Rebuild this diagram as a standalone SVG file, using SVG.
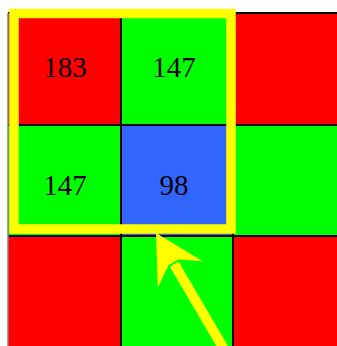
<svg xmlns="http://www.w3.org/2000/svg" width="337" height="346" viewBox="0 0 337 346">
  <style>
    .red { fill: #ff0000; }
    .green { fill: #00ff00; }
    .blue { fill: #3366ff; }
    .grid { stroke: #000000; stroke-width: 2; fill: none; }
    .val { font-family: "Liberation Serif", "Times New Roman", serif; font-size: 29px; fill: #000000; text-anchor: middle; }
    .hl { fill: none; stroke: #ffff00; stroke-width: 9.5; }
    .arrow { stroke: #ffff00; stroke-width: 10; fill: none; }
  </style>
  <defs>
    <marker id="head" markerUnits="userSpaceOnUse" orient="auto" viewBox="-14 -28 52 56" markerWidth="52" markerHeight="56" refX="0" refY="0" overflow="visible">
      <path d="M36,0 L-12,-26 L2,-5.5 L2,5.5 L-12,26 Z" fill="#ffff00"/>
    </marker>
  </defs>
  <rect width="337" height="346" fill="#ffffff"/>
  <g id="cells">
    <g id="c00"><rect class="red" x="8" y="13" width="113" height="112"/></g>
    <g id="c01"><rect class="green" x="121" y="13" width="112" height="112"/></g>
    <g id="c02"><rect class="red" x="233" y="13" width="110" height="112"/></g>
    <g id="c10"><rect class="green" x="8" y="125" width="113" height="111"/></g>
    <g id="c11"><rect class="blue" x="121" y="125" width="112" height="111"/></g>
    <g id="c12"><rect class="green" x="233" y="125" width="110" height="111"/></g>
    <g id="c20"><rect class="red" x="8" y="236" width="113" height="115"/></g>
    <g id="c21"><rect class="green" x="121" y="236" width="112" height="115"/></g>
    <g id="c22"><rect class="red" x="233" y="236" width="110" height="115"/></g>
  </g>
  <g id="gridlines" class="grid">
    <line x1="8" y1="13" x2="340" y2="13"/>
    <line x1="8" y1="125" x2="340" y2="125"/>
    <line x1="8" y1="236" x2="340" y2="236"/>
    <line x1="121" y1="13" x2="121" y2="350"/>
    <line x1="233" y1="13" x2="233" y2="350"/>
    <line x1="8" y1="13" x2="8" y2="350" stroke="#808080" stroke-width="1.5"/>
  </g>
  <g id="labels">
    <text class="val" x="65" y="77">183</text>
    <text class="val" x="174" y="77">147</text>
    <text class="val" x="65" y="195">147</text>
    <text class="val" x="174" y="195">98</text>
  </g>
  <g id="highlight">
    <rect class="hl" x="14" y="13.5" width="217" height="215.5"/>
  </g>
  <g id="connectors">
    <line class="arrow" x1="231.8" y1="362.5" x2="174.2" y2="264.1" marker-end="url(#head)"/>
  </g>
</svg>
